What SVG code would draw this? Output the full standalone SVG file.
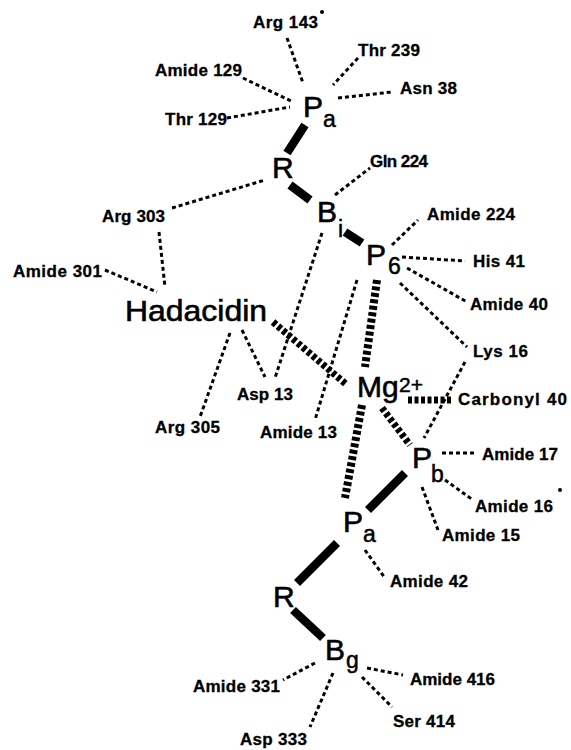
<svg xmlns="http://www.w3.org/2000/svg" width="571" height="750" viewBox="0 0 571 750">
<style>
.bg{fill:#fff}
.lbl{font-family:"Liberation Sans",Arial,sans-serif;font-weight:bold;font-size:17px;fill:#000;stroke:#000;stroke-width:0.3}
.big{font-family:"Liberation Sans",Arial,sans-serif;font-size:30px;fill:#000;stroke:#000;stroke-width:0.6}
.sub{font-family:"Liberation Sans",Arial,sans-serif;font-size:23px;fill:#000;stroke:#000;stroke-width:0.5}
.dot{stroke:#000;stroke-width:3;stroke-dasharray:4 3;fill:none}
.hash{stroke:#000;stroke-width:7;stroke-dasharray:4 2.5;fill:none}
.bond{stroke:#000;stroke-width:8.5;fill:none}
</style>
<rect class="bg" x="0" y="0" width="571" height="750"/>
<g id="connectors">
<line class="dot" x1="287" y1="38" x2="303" y2="83"/>
<line class="dot" x1="243" y1="78" x2="293" y2="102"/>
<line class="dot" x1="227" y1="118" x2="290" y2="107"/>
<line class="dot" x1="358" y1="58" x2="333" y2="85"/>
<line class="dot" x1="338" y1="98" x2="392" y2="92"/>
<line class="dot" x1="335" y1="195" x2="370" y2="168"/>
<line class="dot" x1="172" y1="208" x2="265" y2="180"/>
<line class="dot" x1="159" y1="232" x2="165" y2="287"/>
<line class="dot" x1="105" y1="270" x2="157" y2="292"/>
<line class="dot" x1="392" y1="245" x2="418" y2="220"/>
<line class="dot" x1="402" y1="257" x2="465" y2="261"/>
<line class="dot" x1="407" y1="268" x2="467" y2="302"/>
<line class="dot" x1="400" y1="283" x2="467" y2="347"/>
<line class="dot" x1="465" y1="362" x2="424" y2="438"/>
<line class="dot" x1="322" y1="233" x2="275" y2="378"/>
<line class="dot" x1="357" y1="280" x2="315" y2="420"/>
<line class="dot" x1="242" y1="330" x2="265" y2="377"/>
<line class="dot" x1="230" y1="333" x2="200" y2="417"/>
<line class="dot" x1="442" y1="453" x2="475" y2="453"/>
<line class="dot" x1="445" y1="480" x2="473" y2="500"/>
<line class="dot" x1="422" y1="487" x2="438" y2="530"/>
<line class="dot" x1="365" y1="550" x2="385" y2="578"/>
<line class="dot" x1="315" y1="663" x2="283" y2="680"/>
<line class="dot" x1="333" y1="673" x2="310" y2="727"/>
<line class="dot" x1="367" y1="668" x2="403" y2="675"/>
<line class="dot" x1="362" y1="677" x2="392" y2="707"/>
<line class="hash" style="stroke-width:8" x1="377" y1="280" x2="365" y2="367"/>
<line class="hash" x1="273" y1="322" x2="347" y2="385"/>
<line class="hash" x1="408" y1="400" x2="453" y2="400"/>
<line class="hash" style="stroke-width:8" x1="362" y1="405" x2="345" y2="498"/>
<line class="hash" x1="382" y1="408" x2="410" y2="445"/>
<line class="bond" x1="305" y1="125" x2="287" y2="153"/>
<line class="bond" x1="290" y1="185" x2="310" y2="200"/>
<line class="bond" x1="345" y1="232" x2="362" y2="243"/>
<line class="bond" x1="405" y1="473" x2="368" y2="510"/>
<line class="bond" x1="337" y1="543" x2="297" y2="583"/>
<line class="bond" x1="293" y1="610" x2="323" y2="638"/>
<circle cx="322" cy="12" r="2"/>
<circle cx="560" cy="490" r="2"/>
</g>
<g id="Pa-top"><text class="big" x="303" y="117">P</text><text class="sub" x="323" y="127">a</text></g>
<g id="R-top"><text class="big" x="272" y="178">R</text></g>
<g id="Bi"><text class="big" x="317" y="222">B</text><text class="sub" x="338" y="237">i</text></g>
<g id="P6"><text class="big" x="366" y="265">P</text><text class="sub" x="388" y="274">6</text></g>
<g id="Hadacidin"><text class="big" x="125" y="321" style="font-size:29px" textLength="142" lengthAdjust="spacingAndGlyphs">Hadacidin</text></g>
<g id="Mg"><text class="big" x="357" y="397">Mg</text><text class="sub" x="399" y="392" style="font-size:21px">2+</text></g>
<g id="Pb"><text class="big" x="412" y="468">P</text><text class="sub" x="431" y="482">b</text></g>
<g id="Pa-bottom"><text class="big" x="343" y="532">P</text><text class="sub" x="363" y="542">a</text></g>
<g id="R-bottom"><text class="big" x="273" y="607">R</text></g>
<g id="Bg"><text class="big" x="325" y="660">B</text><text class="sub" x="346" y="668">g</text></g>
<g id="Arg143"><text class="lbl" x="253" y="28" textLength="65">Arg 143</text></g>
<g id="Amide129"><text class="lbl" x="155" y="76" textLength="87">Amide 129</text></g>
<g id="Thr129"><text class="lbl" x="165" y="125" textLength="62">Thr 129</text></g>
<g id="Thr239"><text class="lbl" x="358" y="56" textLength="62">Thr 239</text></g>
<g id="Asn38"><text class="lbl" x="400" y="94" textLength="57">Asn 38</text></g>
<g id="Gln224"><text class="lbl" x="370" y="167" textLength="58">Gln 224</text></g>
<g id="Arg303"><text class="lbl" x="102" y="222" textLength="63">Arg 303</text></g>
<g id="Amide301"><text class="lbl" x="13" y="277" textLength="89">Amide 301</text></g>
<g id="Amide224"><text class="lbl" x="427" y="220" textLength="88">Amide 224</text></g>
<g id="His41"><text class="lbl" x="473" y="267" textLength="52">His 41</text></g>
<g id="Amide40"><text class="lbl" x="470" y="310" textLength="78">Amide 40</text></g>
<g id="Lys16"><text class="lbl" x="473" y="357" textLength="55">Lys 16</text></g>
<g id="Carbonyl40"><text class="lbl" x="458" y="405" textLength="109">Carbonyl 40</text></g>
<g id="Asp13"><text class="lbl" x="237" y="400" textLength="56">Asp 13</text></g>
<g id="Arg305"><text class="lbl" x="155" y="433" textLength="65">Arg 305</text></g>
<g id="Amide13"><text class="lbl" x="260" y="438" textLength="77">Amide 13</text></g>
<g id="Amide17"><text class="lbl" x="482" y="460" textLength="76">Amide 17</text></g>
<g id="Amide16"><text class="lbl" x="475" y="512" textLength="78">Amide 16</text></g>
<g id="Amide15"><text class="lbl" x="442" y="541" textLength="78">Amide 15</text></g>
<g id="Amide42"><text class="lbl" x="390" y="587" textLength="78">Amide 42</text></g>
<g id="Amide331"><text class="lbl" x="193" y="692" textLength="87">Amide 331</text></g>
<g id="Asp333"><text class="lbl" x="240" y="745" textLength="67">Asp 333</text></g>
<g id="Amide416"><text class="lbl" x="410" y="685" textLength="85">Amide 416</text></g>
<g id="Ser414"><text class="lbl" x="393" y="727" textLength="62">Ser 414</text></g>
</svg>
